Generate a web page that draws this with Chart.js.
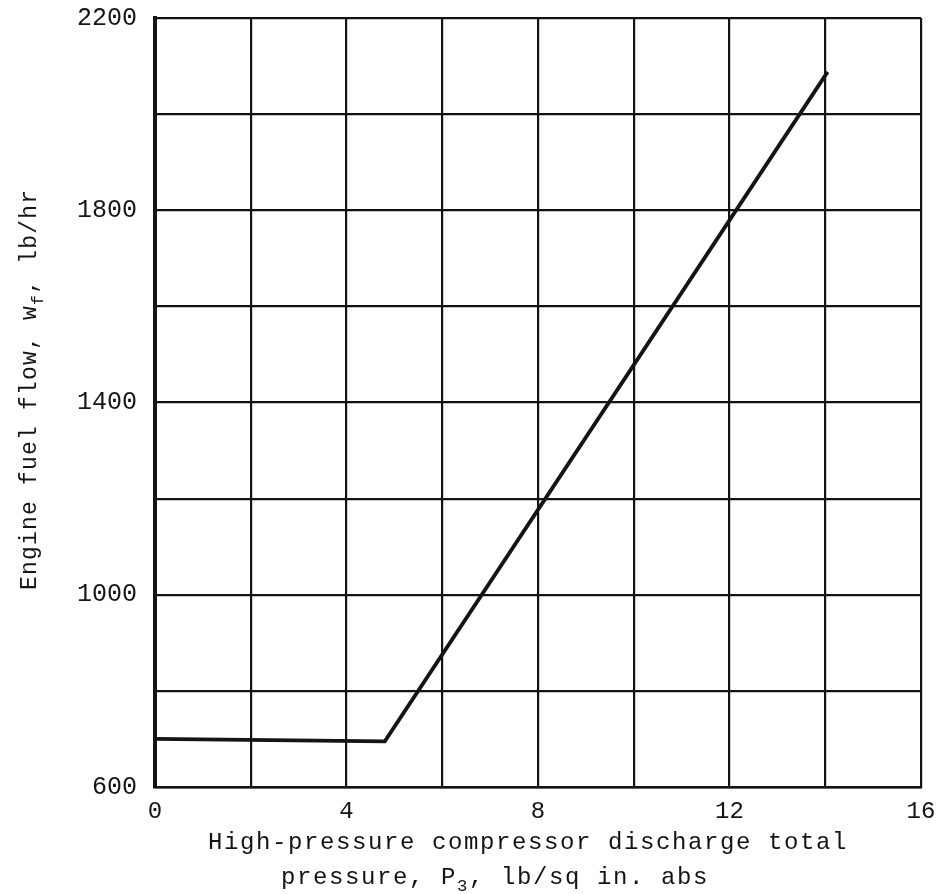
<!DOCTYPE html>
<html>
<head>
<meta charset="utf-8">
<title>Engine fuel flow vs compressor discharge pressure</title>
<script src="https://cdn.jsdelivr.net/npm/chart.js@4.4.1/dist/chart.umd.min.js"></script>
<style>
  html, body { margin: 0; padding: 0; background: #fff; }
  #wrap { width: 939px; height: 894px; }
</style>
</head>
<body>
<div id="wrap"><canvas id="fuelChart" width="939" height="894"></canvas></div>
<script>
// schedule data: pressure (lb/sq in. abs) vs fuel flow (lb/hr)
const pressure = [0, 4.8, 14.05];
const fuelFlow = [700, 695, 2088];

// labelled ticks (grid runs every 2 psi / 200 lb/hr)
const xTickLabels = [0, 4, 8, 12, 16];
const yTickLabels = [600, 1000, 1400, 1800, 2200];

const INK = '#141414';
const MONO = '"Liberation Mono", "DejaVu Sans Mono", monospace';

// draws a run of text pieces, subscripts smaller and lowered
function drawRich(ctx, parts, x, y, size, spacing) {
    let cx = x;
    parts.forEach(p => {
        const fs = p.sub ? size * 0.72 : size;
        ctx.font = fs + 'px ' + MONO;
        ctx.letterSpacing = spacing + 'px';
        ctx.fillText(p.t, cx, p.sub ? y + size * 0.3 : y);
        cx += ctx.measureText(p.t).width;
    });
}

const axisTitles = {
    id: 'axisTitles',
    afterDraw(chart) {
        const ctx = chart.ctx;
        ctx.save();
        ctx.fillStyle = INK;
        ctx.textBaseline = 'alphabetic';
        ctx.textAlign = 'left';

        // x title, two lines
        drawRich(ctx, [{t: 'High-pressure compressor discharge total'}], 208, 849, 24, 1.6);
        drawRich(ctx, [{t: 'pressure, P'}, {t: '3', sub: true}, {t: ', lb/sq in. abs'}], 281, 884, 24, 1.6);

        // y title, rotated
        ctx.translate(36, 590);
        ctx.rotate(-Math.PI / 2);
        drawRich(ctx, [{t: 'Engine fuel flow, w'}, {t: 'f', sub: true}, {t: ', lb/hr'}], 0, 0, 23, 1.2);
        ctx.restore();
    }
};

const ctx = document.getElementById('fuelChart').getContext('2d');
new Chart(ctx, {
    type: 'line',
    data: {
        datasets: [{
            data: pressure.map((p, i) => ({x: p, y: fuelFlow[i]})),
            borderColor: INK,
            borderWidth: 3.8,
            pointRadius: 0,
            tension: 0,
            fill: false
        }]
    },
    options: {
        responsive: false,
        animation: false,
        layout: { padding: { left: 0, top: 18, right: 18, bottom: 0 } },
        plugins: {
            legend: { display: false },
            tooltip: { enabled: false }
        },
        scales: {
            x: {
                type: 'linear',
                min: 0,
                max: 16,
                afterFit: scale => {
                    scale.height = 107;
                    scale.paddingLeft = 0;
                    scale.paddingRight = 0;
                },
                grid: { color: INK, lineWidth: 2.2, drawTicks: false },
                border: { color: INK, width: 2.5 },
                ticks: {
                    stepSize: 2,
                    padding: 10,
                    color: INK,
                    font: { family: MONO, size: 24 },
                    maxRotation: 0,
                    autoSkip: false,
                    callback: v => xTickLabels.includes(v) ? String(v) : ''
                }
            },
            y: {
                min: 600,
                max: 2200,
                afterFit: scale => {
                    scale.width = 155;
                    scale.paddingTop = 0;
                    scale.paddingBottom = 0;
                },
                grid: { color: INK, lineWidth: 2.2, drawTicks: false },
                border: { color: INK, width: 4 },
                ticks: {
                    stepSize: 200,
                    padding: 18,
                    color: INK,
                    font: { family: MONO, size: 25 },
                    autoSkip: false,
                    callback: v => yTickLabels.includes(v) ? String(v) : ''
                }
            }
        }
    },
    plugins: [axisTitles]
});
</script>
</body>
</html>
